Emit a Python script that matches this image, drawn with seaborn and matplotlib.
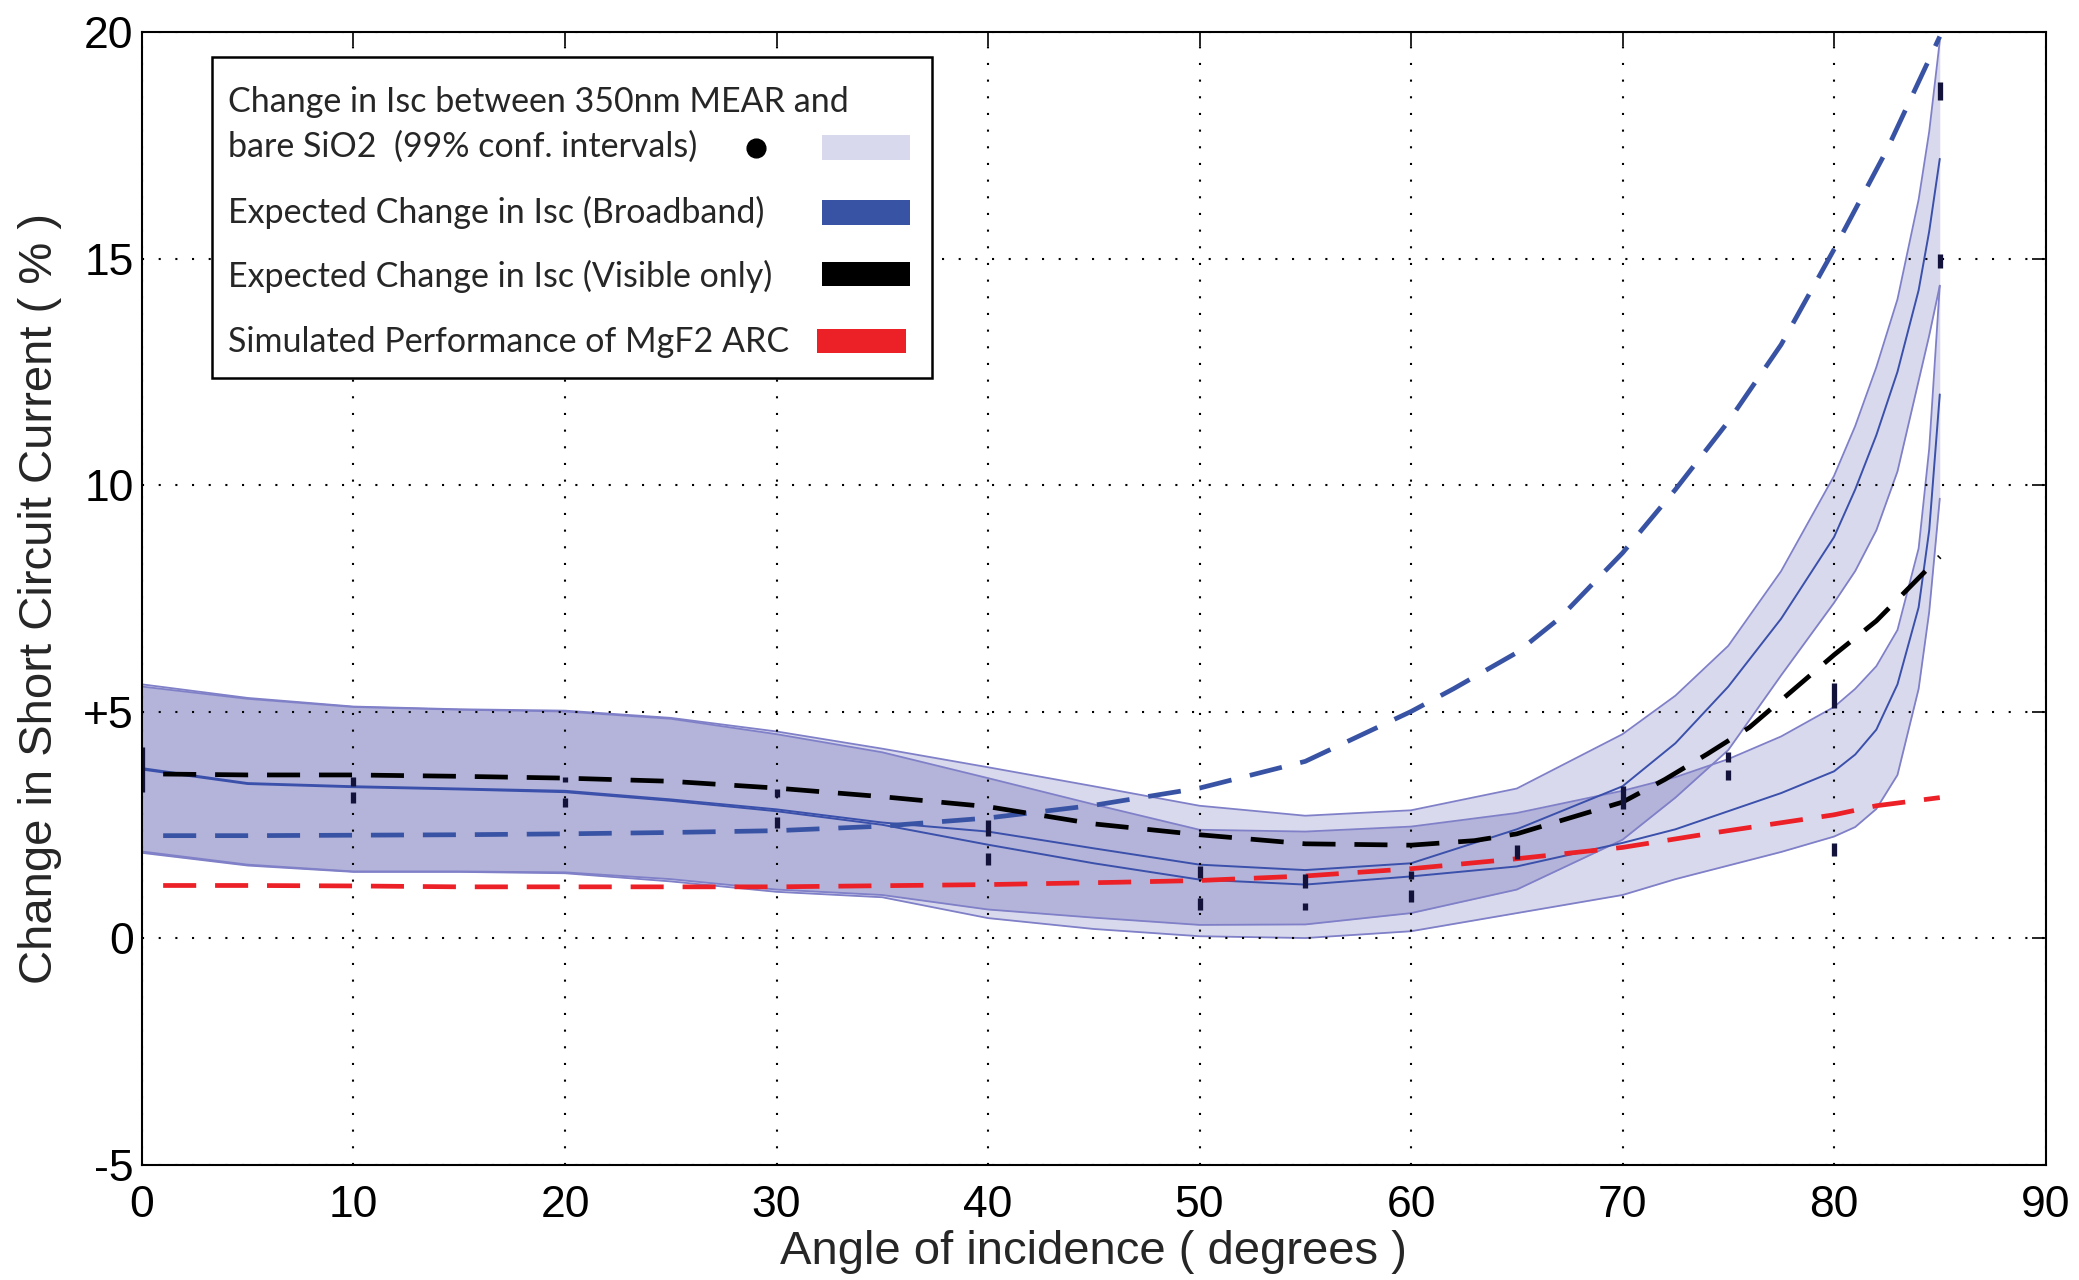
import numpy as np
import matplotlib
matplotlib.use("Agg")
import matplotlib.pyplot as plt
import seaborn as sns
from matplotlib.patches import Rectangle

# ---------------- data ----------------
# confidence bands (two fits) on a common angle grid
band_x = [0, 5, 10, 15, 20, 25, 30, 35, 40, 45, 50, 55, 60, 65, 70, 72.5, 75, 77.5, 80, 81, 82, 83, 84, 84.5, 85]
a_upper = [5.6, 5.3, 5.11, 5.05, 5.02, 4.86, 4.56, 4.18, 3.77, 3.35, 2.92, 2.70, 2.82, 3.3, 4.5, 5.35, 6.45, 8.1, 10.2, 11.3, 12.6, 14.1, 16.3, 17.8, 19.8]
a_center = [3.75, 3.42, 3.35, 3.3, 3.25, 3.06, 2.84, 2.55, 2.35, 1.98, 1.62, 1.5, 1.65, 2.4, 3.35, 4.3, 5.55, 7.05, 8.85, 9.9, 11.1, 12.5, 14.3, 15.6, 17.2]
a_lower = [1.91, 1.62, 1.47, 1.47, 1.45, 1.3, 1.07, 0.95, 0.63, 0.45, 0.29, 0.3, 0.55, 1.07, 2.17, 3.1, 4.15, 5.8, 7.4, 8.1, 9.0, 10.3, 12.3, 13.3, 14.4]
b_upper = [5.55, 5.28, 5.1, 5.04, 5.0, 4.84, 4.5, 4.1, 3.53, 2.95, 2.39, 2.35, 2.46, 2.76, 3.25, 3.55, 3.95, 4.45, 5.1, 5.5, 6.0, 6.8, 8.6, 10.8, 14.4]
b_center = [3.72, 3.4, 3.33, 3.28, 3.22, 3.03, 2.8, 2.5, 2.06, 1.65, 1.29, 1.18, 1.36, 1.58, 2.1, 2.4, 2.8, 3.2, 3.68, 4.05, 4.6, 5.6, 7.3, 9.0, 12.0]
b_lower = [1.88, 1.6, 1.46, 1.46, 1.43, 1.25, 1.02, 0.9, 0.44, 0.2, 0.04, 0.0, 0.15, 0.55, 0.95, 1.3, 1.6, 1.9, 2.24, 2.45, 2.85, 3.6, 5.5, 7.2, 9.7]

# expected change, broadband (blue dashed)
broad_x = [1, 5, 10, 15, 20, 25, 30, 35, 40, 45, 50, 55, 60, 62, 65, 67, 70, 72.5, 75, 77.5, 80, 82.5, 85]
broad_y = [2.26, 2.26, 2.27, 2.28, 2.3, 2.33, 2.37, 2.47, 2.65, 2.93, 3.31, 3.9, 5.0, 5.5, 6.3, 7.05, 8.5, 9.9, 11.4, 13.1, 15.2, 17.4, 19.9]

# expected change, visible only (black dashed)
vis_x = [1, 5, 10, 15, 20, 25, 30, 35, 40, 45, 50, 55, 60, 63, 65, 70, 72, 74, 76, 78, 80, 82, 85]
vis_y = [3.62, 3.6, 3.6, 3.57, 3.53, 3.46, 3.31, 3.12, 2.9, 2.52, 2.28, 2.08, 2.05, 2.15, 2.3, 3.0, 3.5, 4.06, 4.65, 5.45, 6.25, 7.0, 8.42]

# simulated MgF2 ARC (red dashed)
mgf2_x = [1, 5, 10, 15, 20, 25, 30, 40, 46, 50, 55, 60, 65, 70, 74, 80, 82, 85]
mgf2_y = [1.16, 1.16, 1.15, 1.13, 1.13, 1.13, 1.13, 1.18, 1.23, 1.27, 1.37, 1.53, 1.75, 2.0, 2.3, 2.72, 2.92, 3.1]

# measured points with 99% confidence intervals
meas_x = [0, 10, 10, 20, 20, 30, 30, 40, 40, 50, 50, 55, 55, 60, 60, 65, 70, 75, 75, 80, 80, 85, 85]
meas_y = [3.72, 3.45, 3.1, 3.5, 3.0, 3.2, 2.55, 2.43, 1.75, 1.45, 0.75, 1.26, 0.7, 1.4, 0.92, 1.9, 3.1, 4.0, 3.6, 5.35, 1.95, 18.7, 14.95]
meas_err = [0.5, 0.1, 0.12, 0.06, 0.1, 0.08, 0.13, 0.18, 0.13, 0.13, 0.13, 0.16, 0.08, 0.09, 0.13, 0.15, 0.25, 0.11, 0.11, 0.27, 0.15, 0.2, 0.15]

x_ticks = [0, 10, 20, 30, 40, 50, 60, 70, 80, 90]
x_ticklabels = ["0", "10", "20", "30", "40", "50", "60", "70", "80", "90"]
y_ticks = [-5, 0, 5, 10, 15, 20]
y_ticklabels = ["-5", "0", "+5", "10", "15", "20"]

legend_labels = [
    "Change in Isc between 350nm MEAR and\nbare SiO2  (99% conf. intervals)",
    "Expected Change in Isc (Broadband)",
    "Expected Change in Isc (Visible only)",
    "Simulated Performance of MgF2 ARC",
]

# ---------------- styling ----------------
sns.set_style("white")
plt.rcParams['font.family'] = ['Liberation Sans', 'DejaVu Sans']

LIGHT = '#d9d9ee'
DARK = '#b4b4da'
EDGE = '#8080c8'
CENTER = '#3a50aa'
BLUE = '#3953a4'
RED = '#ec2027'
DASH = (0, (7, 4))

fig = plt.figure(figsize=(20.79, 12.8), dpi=100)
ax = fig.add_axes([0.0683, 0.0902, 0.9156, 0.8848])

bx = np.array(band_x)
aU, aC, aL = np.array(a_upper), np.array(a_center), np.array(a_lower)
bU, bC, bL = np.array(b_upper), np.array(b_center), np.array(b_lower)

# bands
ax.fill_between(bx, aL, aU, color=LIGHT, lw=0, zorder=1)
ax.fill_between(bx, bL, bU, color=LIGHT, lw=0, zorder=1)
lo = np.maximum(aL, bL)
hi = np.minimum(aU, bU)
ax.fill_between(bx, lo, hi, where=hi > lo, interpolate=True, color=DARK, lw=0, zorder=1.2)

for arr in (aU, aL, bU, bL):
    sns.lineplot(x=bx, y=arr, ax=ax, color=EDGE, linewidth=1.3, sort=False,
                 estimator=None, zorder=2)
for arr in (aC, bC):
    sns.lineplot(x=bx, y=arr, ax=ax, color=CENTER, linewidth=1.4, sort=False,
                 estimator=None, zorder=2)

# dashed expectation curves
sns.lineplot(x=broad_x, y=broad_y, ax=ax, color=BLUE, linewidth=3.4, linestyle=DASH,
             sort=False, estimator=None, zorder=4)
sns.lineplot(x=vis_x, y=vis_y, ax=ax, color='black', linewidth=3.4, linestyle=DASH,
             sort=False, estimator=None, zorder=4)
sns.lineplot(x=mgf2_x, y=mgf2_y, ax=ax, color=RED, linewidth=3.4, linestyle=DASH,
             sort=False, estimator=None, zorder=4)

# measured points
ax.errorbar(meas_x, meas_y, yerr=meas_err, fmt='none', ecolor='#12123a',
            elinewidth=3.8, capsize=0, zorder=6)

# axes
ax.set_xlim(0, 90)
ax.set_ylim(-5, 20)
ax.set_xticks(x_ticks)
ax.set_xticklabels(x_ticklabels)
ax.set_yticks(y_ticks)
ax.set_yticklabels(y_ticklabels)
ax.set_axisbelow(False)
ax.grid(True, color='black', linestyle=(0, (1, 7)), linewidth=1.5, zorder=2.5)
ax.tick_params(axis='both', direction='in', length=10, width=1.2, top=True, right=True,
               labelsize=32, colors='black')
ax.tick_params(axis='x', pad=15)
ax.tick_params(axis='y', pad=6)
for s in ax.spines.values():
    s.set_visible(True)
    s.set_color('black')
    s.set_linewidth(1.5)
    s.set_zorder(7)

ax.set_xlabel("Angle of incidence ( degrees )", fontsize=34)
ax.set_ylabel("Change in Short Circuit Current ( % )", fontsize=34)
ax.xaxis.set_label_coords(0.5, -0.058)
ax.yaxis.set_label_coords(-0.042, 0.5)

# legend box (manual)
tr = ax.transAxes
ax.add_patch(Rectangle((0.0368, 0.6945), 0.3782, 0.2835, transform=tr,
                       facecolor='white', edgecolor='black', lw=1.8, zorder=10))
lfont = dict(fontsize=24.5, family=['Lato', 'DejaVu Sans'], va='center', ha='left',
             transform=tr, zorder=11)
first = legend_labels[0].split("\n")
ax.text(0.045, 0.938, first[0], **lfont)
ax.text(0.045, 0.899, first[1], **lfont)
ax.text(0.045, 0.841, legend_labels[1], **lfont)
ax.text(0.045, 0.784, legend_labels[2], **lfont)
ax.text(0.045, 0.726, legend_labels[3], **lfont)
ax.plot([0.3226], [0.8976], 'o', color='black', ms=13.5, transform=tr, zorder=11, clip_on=False)
rh = 0.022
for (x0, yc, c) in [(0.357, 0.898, LIGHT), (0.357, 0.8406, BLUE),
                    (0.357, 0.7863, 'black'), (0.3547, 0.7272, RED)]:
    ax.add_patch(Rectangle((x0, yc - rh / 2), 0.0465, rh, transform=tr,
                           facecolor=c, edgecolor='none', zorder=11))

fig.savefig("out.png", dpi=100)
